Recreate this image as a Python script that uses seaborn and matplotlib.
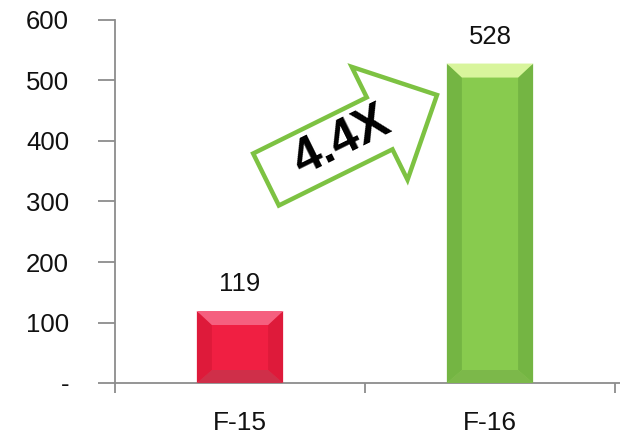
import numpy as np
import pandas as pd
import matplotlib
matplotlib.use("Agg")
import matplotlib.pyplot as plt
from matplotlib.patches import Polygon, FancyArrow
import seaborn as sns

# chart data
models = ["F-15", "F-16"]
counts = [119, 528]
y_ticks = [0, 100, 200, 300, 400, 500, 600]
y_tick_labels = ["-", "100", "200", "300", "400", "500", "600"]

# bevel colours per bar: face, top, sides, bottom
face_colors = ["#F01F42", "#88CB4E"]
top_colors = ["#F5607F", "#D8F59C"]
side_colors = ["#DE1A3A", "#74B543"]
bottom_colors = ["#CF2F49", "#7CB84A"]

sns.set_style("white")
plt.rcParams["font.family"] = ["Liberation Sans", "DejaVu Sans"]

df = pd.DataFrame({"model": models, "count": counts})

fig = plt.figure(figsize=(6.2, 4.38), dpi=100)
ax = fig.add_axes([115 / 620, 55 / 438, 505 / 620, 363 / 438])

sns.barplot(data=df, x="model", y="count", hue="model", palette=face_colors,
            width=0.345, legend=False, ax=ax, saturation=1)

ax.set_xlim(-0.5, -0.5 + 505 / 250)
ax.set_ylim(0, 600)

# bevel the bars
fig.canvas.draw()
px_x = ax.bbox.width / (ax.get_xlim()[1] - ax.get_xlim()[0])
px_y = ax.bbox.height / (ax.get_ylim()[1] - ax.get_ylim()[0])
bx = 15 / px_x
by_top = 14 / px_y
by_bot = 13 / px_y
for i, bar in enumerate(ax.patches):
    x0 = bar.get_x()
    x1 = x0 + bar.get_width()
    y1 = bar.get_height()
    y0 = 0
    ix0, ix1 = x0 + bx, x1 - bx
    iy0, iy1 = y0 + by_bot, y1 - by_top
    shapes = [
        ([(x0, y0), (x0, y1), (ix0, iy1), (ix0, iy0)], side_colors[i]),
        ([(x1, y0), (x1, y1), (ix1, iy1), (ix1, iy0)], side_colors[i]),
        ([(x0, y1), (x1, y1), (ix1, iy1), (ix0, iy1)], top_colors[i]),
        ([(x0, y0), (x1, y0), (ix1, iy0), (ix0, iy0)], bottom_colors[i]),
    ]
    for pts, c in shapes:
        ax.add_patch(Polygon(pts, closed=True, facecolor=c, edgecolor="none", zorder=3))
    ax.text(x0 + bar.get_width() / 2, y1 + 27 / px_y, str(counts[i]),
            ha="center", va="center", fontsize=18.5, color="#111111")

# axes styling
for s in ["top", "right"]:
    ax.spines[s].set_visible(False)
for s in ["left", "bottom"]:
    ax.spines[s].set_color("#8C8C8C")
    ax.spines[s].set_linewidth(1.3)

ax.set_yticks(y_ticks)
ax.set_yticklabels(y_tick_labels, fontsize=18.5, color="#111111")
ax.tick_params(axis="y", length=12, width=1.3, color="#8C8C8C", pad=21, left=True)

ax.set_xticks([-0.5, 0.5, 1.5])
ax.set_xticklabels([])
ax.set_xticks([0, 1], minor=True)
ax.set_xticklabels(models, minor=True, fontsize=19, color="#111111")
ax.tick_params(axis="x", which="major", length=7, width=1.3, color="#8C8C8C", bottom=True)
ax.tick_params(axis="x", which="minor", length=0, pad=20)
ax.set_xlabel("")
ax.set_ylabel("")

# growth arrow overlay in pixel space
ov = fig.add_axes([0, 0, 1, 1])
ov.set_xlim(0, 620)
ov.set_ylim(438, 0)
ov.set_aspect("equal")
ov.axis("off")
ov.patch.set_alpha(0)

tail = np.array([266, 179.5])
tip = np.array([437, 95])
d = tip - tail
ov.add_patch(FancyArrow(tail[0], tail[1], d[0], d[1], width=58, head_width=126,
                        head_length=64, length_includes_head=True,
                        facecolor="white", edgecolor="#7DC242", linewidth=3.2,
                        joinstyle="miter"))
angle = np.degrees(np.arctan2(-d[1], d[0]))
ov.text(342, 142, f"{counts[1] / counts[0]:.1f}X", rotation=angle,
        rotation_mode="anchor", ha="center", va="center",
        fontsize=36, fontweight="bold", color="black",
        family=["Liberation Sans Narrow", "Liberation Sans", "DejaVu Sans"])

fig.savefig("out.png", dpi=100)
